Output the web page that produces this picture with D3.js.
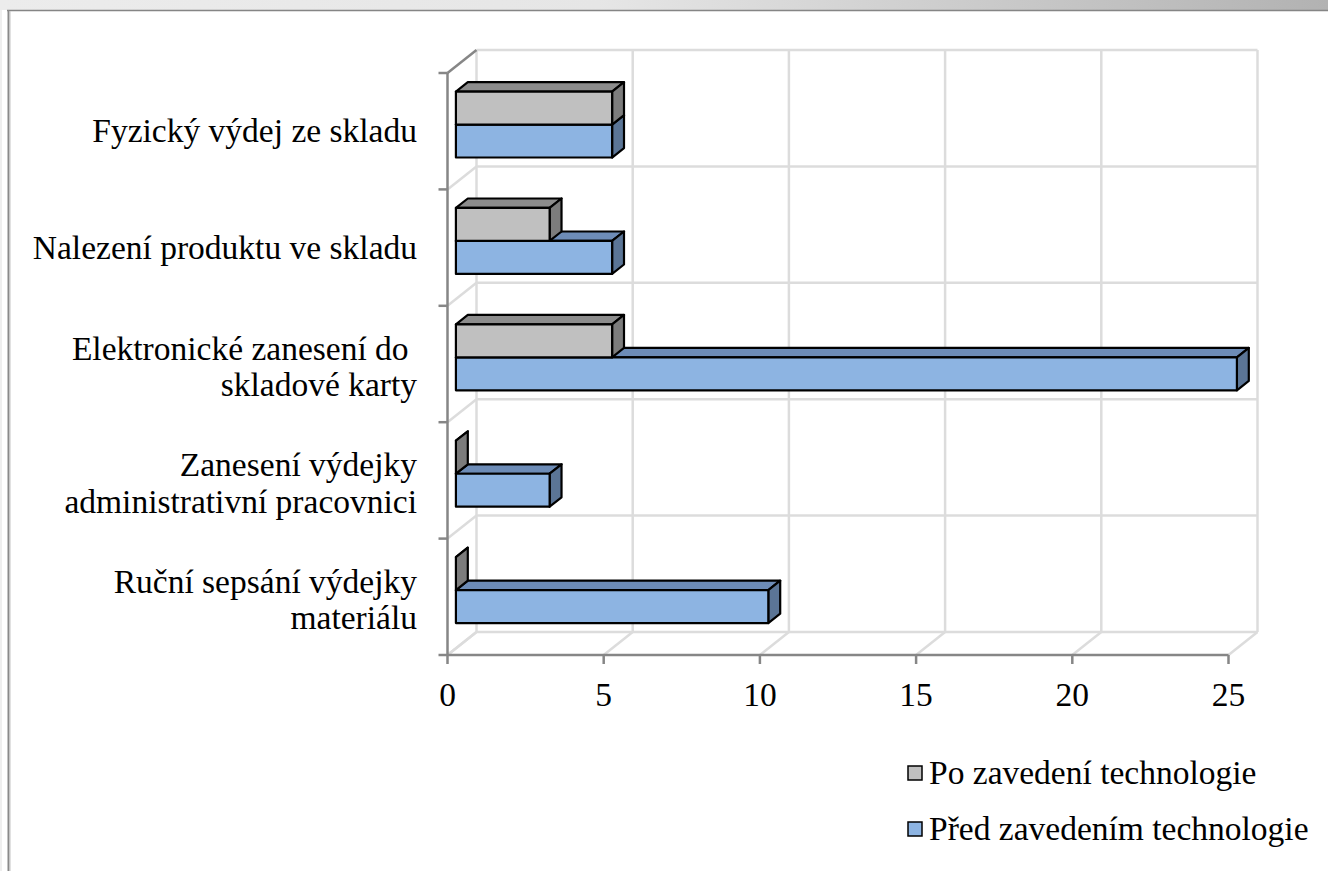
<!DOCTYPE html>
<html><head><meta charset="utf-8">
<script src="https://cdn.jsdelivr.net/npm/d3@7"></script>
<style>html,body{margin:0;padding:0;background:#fff;}svg{display:block;}text{white-space:pre;}</style>
</head><body>
<svg id="c" width="1328" height="871"></svg>
<script>
// ---- data ----
const categories = ["Fyzický výdej ze skladu", "Nalezení produktu ve skladu", "Elektronické zanesení do \nskladové karty", "Zanesení výdejky\nadministrativní pracovnici", "Ruční sepsání výdejky\nmateriálu"];
const seriesNames = ["Po zavedení technologie", "Před zavedením technologie"];
const poValues = [5, 3, 5, 0, 0];
const predValues = [5, 5, 25, 3, 10];
const xTicks = [0, 5, 10, 15, 20, 25];

const svg = d3.select("#c");
const font = "'Liberation Serif','Times New Roman',serif";
const fs = 33.5;

// frame
const defs = svg.append("defs");
const grad = defs.append("linearGradient").attr("id", "tg").attr("x1", 0).attr("x2", 1).attr("y1", 0).attr("y2", 0);
grad.append("stop").attr("offset", "0").attr("stop-color", "#ececec");
grad.append("stop").attr("offset", "0.45").attr("stop-color", "#e6e6e6");
grad.append("stop").attr("offset", "1").attr("stop-color", "#b2b2b2");
svg.append("rect").attr("x", 0).attr("y", 0).attr("width", 1328).attr("height", 10).attr("fill", "url(#tg)");
svg.append("rect").attr("x", 0).attr("y", 10).attr("width", 2).attr("height", 861).attr("fill", "#efefef");
svg.append("line").attr("x1", 7).attr("x2", 1328).attr("y1", 10.5).attr("y2", 10.5).attr("stroke", "#858585").attr("stroke-width", 1.5);
svg.append("line").attr("x1", 8.5).attr("x2", 8.5).attr("y1", 10).attr("y2", 871).attr("stroke", "#8a8a8a").attr("stroke-width", 2);
svg.append("line").attr("x1", 10).attr("x2", 10).attr("y1", 11).attr("y2", 871).attr("stroke", "#c4c4c4").attr("stroke-width", 1);

// geometry
const x0 = 447.5, x1 = 1228.5, yTop = 73, yBot = 655;
const DX = 29, DY = -23;
const f1 = 0.29, f2 = 0.70;

const xs = d3.scaleLinear().domain([0, 25]).range([x0, x1]);
const ys = d3.scaleBand().domain(categories).range([yTop, yBot]).padding(0);
const sub = d3.scaleBand().domain(seriesNames).range([0, ys.bandwidth()]).paddingInner(0).paddingOuter(0.764);

const grid = svg.append("g").attr("stroke", "#dcdcdc").attr("stroke-width", 2.5).attr("fill", "none");
xTicks.forEach(t => {
  grid.append("line").attr("x1", xs(t) + DX).attr("x2", xs(t) + DX).attr("y1", yTop + DY).attr("y2", yBot + DY);
  grid.append("line").attr("x1", xs(t)).attr("y1", yBot).attr("x2", xs(t) + DX).attr("y2", yBot + DY);
});
const catEdges = categories.map(c => ys(c)).concat([yBot]);
catEdges.forEach((y, i) => {
  grid.append("line").attr("x1", x0 + DX).attr("x2", x1 + DX).attr("y1", y + DY).attr("y2", y + DY);
  if (i > 0) grid.append("line").attr("x1", x0).attr("y1", y).attr("x2", x0 + DX).attr("y2", y + DY);
});

// axes
const ax = svg.append("g").attr("stroke", "#868686").attr("stroke-width", 2.5).attr("fill", "none");
ax.append("line").attr("x1", x0).attr("x2", x1).attr("y1", yBot).attr("y2", yBot);
ax.append("line").attr("x1", x0).attr("x2", x0).attr("y1", yTop).attr("y2", yBot);
ax.append("line").attr("x1", x0).attr("y1", yTop).attr("x2", x0 + DX).attr("y2", yTop + DY);
xTicks.forEach(t => ax.append("line").attr("x1", xs(t)).attr("x2", xs(t)).attr("y1", yBot).attr("y2", yBot + 9));
catEdges.forEach(y => ax.append("line").attr("x1", x0 - 9).attr("x2", x0).attr("y1", y).attr("y2", y));

// tick labels
svg.append("g").selectAll("text").data(xTicks).join("text")
  .attr("x", d => xs(d)).attr("y", 706).attr("text-anchor", "middle")
  .attr("font-family", font).attr("font-size", fs).attr("fill", "#000").text(d => d);

// category labels
categories.forEach(c => {
  const lines = c.split("\n");
  const cy = ys(c) + ys.bandwidth() / 2 + (lines.length > 1 ? 3 : 0);
  const lh = 36.5;
  const t = svg.append("text").attr("font-family", font).attr("font-size", fs).attr("fill", "#000").attr("text-anchor", "end");
  lines.forEach((ln, i) => {
    t.append("tspan").attr("x", 417).attr("y", cy + (i - (lines.length - 1) / 2) * lh + 11).text(ln);
  });
});

// bars
const styles = {
  "Po zavedení technologie": {front: "#c0c0c0", top: "#8c8c8c", side: "#7c7c7c"},
  "Před zavedením technologie": {front: "#8db4e2", top: "#6d8cb7", side: "#5b7596"}
};
const bars = svg.append("g").attr("stroke", "#000").attr("stroke-width", 2.2).attr("stroke-linejoin", "round");
function drawBar(cat, ser, v) {
  const st = styles[ser];
  const ox = f1 * DX, oy = f1 * DY, dd = f2 - f1;
  const ddx = dd * DX, ddy = dd * DY;
  const X0 = xs(0) + ox, X1 = xs(v) + ox;
  const Y1 = ys(cat) + sub(ser) + oy, Y2 = Y1 + sub.bandwidth();
  const pts = a => a.map(p => p.join(",")).join(" ");
  bars.append("polygon").attr("fill", st.top).attr("points", pts([[X0, Y1], [X1, Y1], [X1 + ddx, Y1 + ddy], [X0 + ddx, Y1 + ddy]]));
  bars.append("polygon").attr("fill", st.side).attr("points", pts([[X1, Y1], [X1 + ddx, Y1 + ddy], [X1 + ddx, Y2 + ddy], [X1, Y2]]));
  bars.append("rect").attr("fill", st.front).attr("x", X0).attr("y", Y1).attr("width", X1 - X0).attr("height", Y2 - Y1);
}
categories.forEach((c, i) => {
  drawBar(c, seriesNames[1], predValues[i]);
  drawBar(c, seriesNames[0], poValues[i]);
});

// legend
const leg = svg.append("g");
seriesNames.forEach((s, i) => {
  const y = 773 + i * 56;
  leg.append("rect").attr("x", 908).attr("y", y - 7).attr("width", 14).attr("height", 14)
    .attr("fill", styles[s].front).attr("stroke", "#000").attr("stroke-width", 1.5);
  leg.append("text").attr("x", 929).attr("y", y + 11).attr("font-family", font).attr("font-size", fs).text(s);
});
</script>
</body></html>
